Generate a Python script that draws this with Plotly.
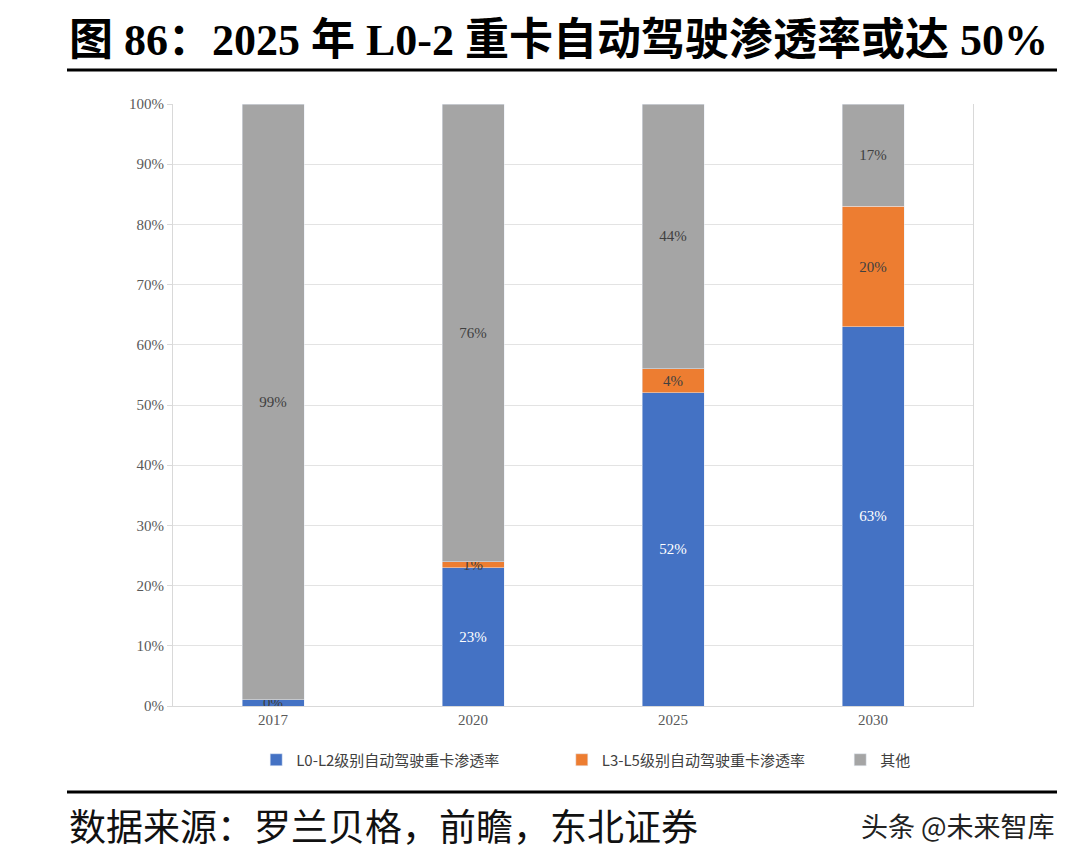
import plotly.graph_objects as go

years = ["2017", "2020", "2025", "2030"]
l0_l2 = [1, 23, 52, 63]
l0_l2_labels = ["0%", "23%", "52%", "63%"]
l3_l5 = [0, 1, 4, 20]
l3_l5_labels = ["", "1%", "4%", "20%"]
others = [99, 76, 44, 17]
others_labels = ["99%", "76%", "44%", "17%"]
series_names = ["L0-L2级别自动驾驶重卡渗透率", "L3-L5级别自动驾驶重卡渗透率", "其他"]
title_text = "图 86：2025 年 L0-2 重卡自动驾驶渗透率或达 50%"
source_text = "数据来源：罗兰贝格，前瞻，东北证券"
watermark_text = "头条 @未来智库"

SERIF = "Liberation Serif, Noto Sans CJK SC, serif"
CJK = "Noto Sans CJK SC, sans-serif"

fig = go.Figure()
fig.add_trace(go.Bar(
    x=years, y=l0_l2, name=series_names[0], marker_color="#4472C4", legend="legend",
    text=l0_l2_labels, textposition="inside", insidetextanchor="middle",
    textfont=dict(color=["#404040", "white", "white", "white"], family=SERIF, size=15),
))
fig.add_trace(go.Bar(
    x=years, y=l3_l5, name=series_names[1], marker_color="#ED7D31", legend="legend2",
    text=l3_l5_labels, textposition="inside", insidetextanchor="middle",
    textfont=dict(color="#404040", family=SERIF, size=15),
))
fig.add_trace(go.Bar(
    x=years, y=others, name=series_names[2], marker_color="#A5A5A5", legend="legend3",
    text=others_labels, textposition="inside", insidetextanchor="middle",
    textfont=dict(color="#404040", family=SERIF, size=15),
))

leg_common = dict(orientation="h", y=-0.0897, yanchor="middle", xanchor="left",
                  font=dict(family=CJK, size=15, color="#404040"),
                  itemwidth=30, bgcolor="rgba(0,0,0,0)")

# The page body adds an 8px offset; margins are set so that the plot area sits at
# x 173..973 and y 104..706 in the screenshot.
fig.update_layout(
    barmode="stack",
    bargap=0.69,
    width=1080, height=865,
    margin=dict(l=165, r=115, t=96, b=167),
    paper_bgcolor="white", plot_bgcolor="white",
    uniformtext=dict(minsize=15, mode="show"),
    showlegend=True,
    legend=dict(x=0.104, **leg_common),
    legend2=dict(x=0.486, **leg_common),
    legend3=dict(x=0.834, **leg_common),
    font=dict(family=SERIF, color="#595959"),
)
fig.update_xaxes(
    showgrid=False, showline=True, linecolor="#d9d9d9", linewidth=1,
    tickfont=dict(family=SERIF, size=15, color="#595959"),
    ticks="", fixedrange=True,
)
fig.update_yaxes(
    range=[0, 100], dtick=10, ticksuffix="%",
    showgrid=True, gridcolor="#e3e3e3", gridwidth=1,
    showline=True, linecolor="#d9d9d9", linewidth=1, mirror=True,
    ticks="outside", ticklen=5, tickcolor="#d9d9d9",
    tickfont=dict(family=SERIF, size=15, color="#595959"),
    zeroline=False,
)

# Title, rules and source text
fig.add_annotation(
    text=f"<b>{title_text}</b>", xref="paper", yref="paper",
    x=-0.1325, y=1.106, xanchor="left", yanchor="middle", showarrow=False,
    font=dict(family="Liberation Serif, Noto Sans CJK SC", size=44, color="#000000"),
)
fig.add_shape(type="line", xref="paper", yref="paper", x0=-0.1325, x1=1.105,
              y0=1.0565, y1=1.0565, line=dict(color="#000000", width=3))
fig.add_shape(type="line", xref="paper", yref="paper", x0=-0.1325, x1=1.105,
              y0=-0.1429, y1=-0.1429, line=dict(color="#000000", width=3))
fig.add_annotation(
    text=source_text, xref="paper", yref="paper",
    x=-0.1325, y=-0.1977, xanchor="left", yanchor="middle", showarrow=False,
    font=dict(family=CJK, size=37, color="#111111"),
)
fig.add_annotation(
    text=watermark_text, xref="paper", yref="paper",
    x=1.105, y=-0.1977, xanchor="right", yanchor="middle", showarrow=False,
    font=dict(family=CJK, size=27, color="#222222"),
)

fig.write_html("out.html")
